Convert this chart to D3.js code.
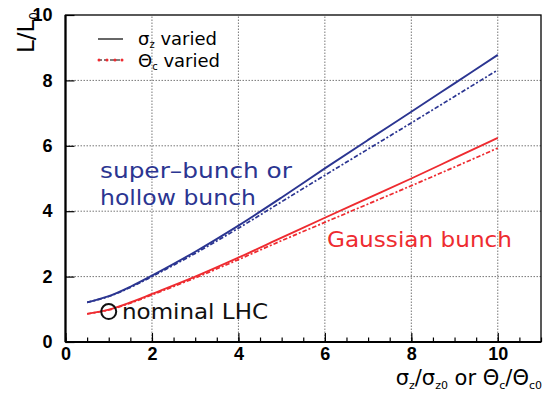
<!DOCTYPE html>
<html>
<head>
<meta charset="utf-8">
<script src="https://cdn.jsdelivr.net/npm/d3@7"></script>
<style>
body{margin:0;background:#fff;}
#plot{width:547px;height:394px;}
</style>
</head>
<body>
<div id="plot" class="canvas"></div>
<script>
//data
var xVals = [0.5,1,1.5,2,3,4,5,6,7,8,9,10];
var blueSolid = [1.21,1.40,1.69,2.03,2.76,3.56,4.42,5.31,6.18,7.04,7.91,8.78];
var blueDash  = [1.21,1.39,1.67,2.00,2.71,3.48,4.29,5.10,5.90,6.70,7.51,8.32];
var redSolid  = [0.86,0.99,1.21,1.47,2.00,2.58,3.19,3.80,4.40,5.00,5.62,6.24];
var redDash   = [0.86,0.98,1.19,1.44,1.96,2.52,3.10,3.66,4.22,4.78,5.35,5.93];
var nominal = [1, 0.93];
var xTicks = [0,2,4,6,8,10];
var yTicks = [0,2,4,6,8,10];

var blue = '#2b3591', red = '#ee2b30';

var svg = d3.select('#plot').append('svg')
	.attr('width',547).attr('height',394);

var x = d3.scaleLinear().domain([0,11]).range([65.5,541]);
var y = d3.scaleLinear().domain([0,10]).range([342,15]);

//grid
svg.append('g').selectAll('line').data(xTicks.slice(1)).enter().append('line')
	.attr('x1',d=>x(d)).attr('x2',d=>x(d)).attr('y1',y(0)).attr('y2',y(10))
	.attr('stroke','#777').attr('stroke-width',1).attr('stroke-dasharray','1.5,1.5');
svg.append('g').selectAll('line').data(yTicks.slice(1,-1)).enter().append('line')
	.attr('y1',d=>y(d)).attr('y2',d=>y(d)).attr('x1',x(0)).attr('x2',x(11))
	.attr('stroke','#777').attr('stroke-width',1).attr('stroke-dasharray','1.5,1.5');

//axes, ticks inside
var xAxis = d3.axisBottom(x).tickValues(xTicks).tickSize(-9).tickPadding(5).tickSizeOuter(0);
var xMinor = d3.axisBottom(x).tickValues(d3.range(0,11.01,0.5)).tickSize(-4.5).tickFormat('').tickSizeOuter(0);
var yAxis = d3.axisLeft(y).tickValues(yTicks).tickSize(-9).tickPadding(13).tickSizeOuter(0);

function styleAxis(g){
	g.select('.domain').remove();
	g.selectAll('line').attr('stroke','#000').attr('stroke-width',1.2);
	g.selectAll('text').attr('font-family','Liberation Sans, Arial, sans-serif')
		.attr('font-weight','bold').attr('font-size',18).attr('fill','#000');
}
svg.append('g').attr('transform','translate(0,342)').call(xMinor).call(styleAxis);
svg.append('g').attr('transform','translate(0,342)').call(xAxis).call(styleAxis);
svg.append('g').attr('transform','translate(65.5,0)').call(yAxis).call(styleAxis);

//frame
svg.append('rect').attr('x',x(0)).attr('y',y(10))
	.attr('width',x(11)-x(0)).attr('height',y(0)-y(10))
	.attr('fill','none').attr('stroke','#000').attr('stroke-width',1.3);
svg.append('line').attr('x1',x(0)).attr('x2',x(11)).attr('y1',y(0)).attr('y2',y(0))
	.attr('stroke','#000').attr('stroke-width',2.2);
svg.append('line').attr('x1',x(0)).attr('x2',x(0)).attr('y1',y(0)).attr('y2',y(10))
	.attr('stroke','#000').attr('stroke-width',2.2);

//curves
var line = d3.line().x(d=>x(d[0])).y(d=>y(d[1])).curve(d3.curveCatmullRom);
function draw(vals,color,dashed){
	svg.append('path').datum(xVals.map((v,i)=>[v,vals[i]]))
		.attr('d',line).attr('fill','none').attr('stroke',color)
		.attr('stroke-width',dashed?1.7:1.9)
		.attr('stroke-dasharray',dashed?'4.5,2,2,2':null);
}
draw(blueDash,blue,true);
draw(blueSolid,blue,false);
draw(redDash,red,true);
draw(redSolid,red,false);

//nominal LHC marker
svg.append('circle').attr('cx',x(nominal[0])).attr('cy',y(nominal[1])).attr('r',7.5)
	.attr('fill','none').attr('stroke','#111').attr('stroke-width',2);

//annotations
var annoFont = 'DejaVu Sans, sans-serif';
function label(t,px,py,color,size,len){
	svg.append('text').attr('x',px).attr('y',py).text(t)
		.attr('font-family',annoFont).attr('font-size',size).attr('fill',color)
		.attr('textLength',len).attr('lengthAdjust','spacingAndGlyphs');
}
label('super\u2013bunch or',100,178,blue,21,192);
label('hollow bunch',100,205,blue,21,156);
label('Gaussian bunch',327,247,red,22,185);
label('nominal LHC',122,319,'#111',22,146);

//legend
svg.append('line').attr('x1',98).attr('x2',123).attr('y1',39).attr('y2',39)
	.attr('stroke','#000').attr('stroke-width',1.2);
svg.append('line').attr('x1',98).attr('x2',123).attr('y1',60).attr('y2',60)
	.attr('stroke','#000').attr('stroke-width',1.2).attr('stroke-dasharray','4,2');
svg.append('g').selectAll('circle').data([99,107,115,122]).enter().append('circle')
	.attr('cx',d=>d).attr('cy',60).attr('r',1.5).attr('fill',red);

var leg1 = svg.append('text').attr('x',138).attr('y',45)
	.attr('font-family',annoFont).attr('font-size',18).attr('fill','#000');
leg1.append('tspan').text('\u03c3');
leg1.append('tspan').text('z').attr('font-size',10).attr('dy',3);
leg1.append('tspan').text(' varied').attr('dy',-3);
var leg2 = svg.append('text').attr('x',138).attr('y',67)
	.attr('font-family',annoFont).attr('font-size',18).attr('fill','#000');
leg2.append('tspan').text('\u0398');
leg2.append('tspan').text('c').attr('font-size',10).attr('dy',3);
leg2.append('tspan').text(' varied').attr('dy',-3);

//axis titles
var xt = svg.append('text').attr('x',542).attr('y',385).attr('text-anchor','end')
	.attr('font-family',annoFont).attr('font-size',21).attr('fill','#000');
xt.append('tspan').text('\u03c3');
xt.append('tspan').text('z').attr('font-size',11).attr('dy',4);
xt.append('tspan').text('/\u03c3').attr('dy',-4);
xt.append('tspan').text('z0').attr('font-size',11).attr('dy',4);
xt.append('tspan').text(' or \u0398').attr('dy',-4);
xt.append('tspan').text('c').attr('font-size',11).attr('dy',4);
xt.append('tspan').text('/\u0398').attr('dy',-4);
xt.append('tspan').text('c0').attr('font-size',11).attr('dy',4);

var yt = svg.append('text').attr('transform','translate(34,12) rotate(-90)')
	.attr('text-anchor','end')
	.attr('font-family',annoFont).attr('font-size',23).attr('fill','#000');
yt.append('tspan').text('L/L');
yt.append('tspan').text('0').attr('font-size',12).attr('dy',4);
</script>
</body>
</html>
